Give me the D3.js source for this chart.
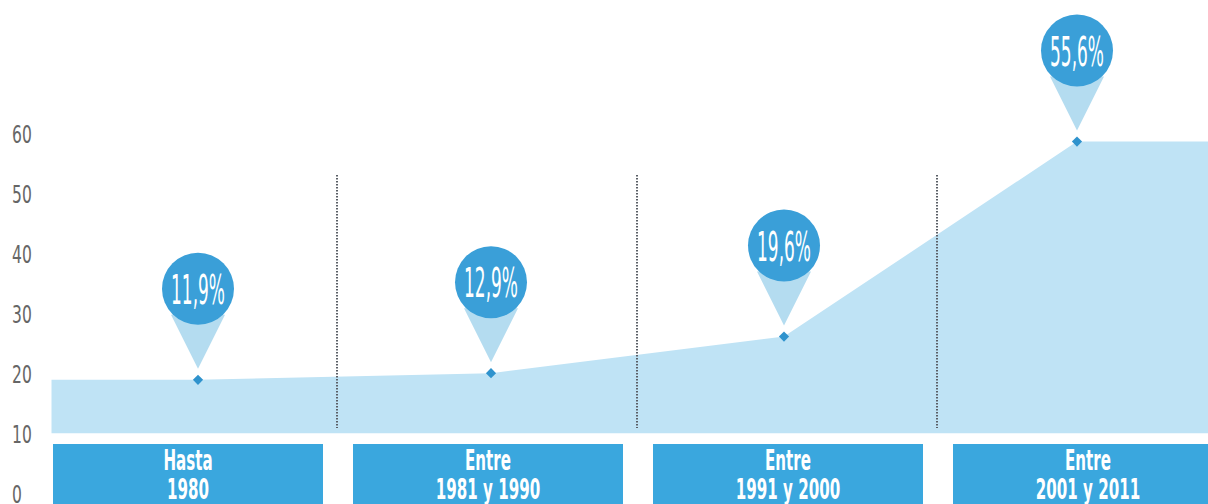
<!DOCTYPE html>
<html>
<head>
<meta charset="utf-8">
<script src="https://cdn.jsdelivr.net/npm/d3@7.9.0/dist/d3.min.js"></script>
<style>
  html, body { margin: 0; padding: 0; background: #fff; }
  svg { display: block; }
  text { font-family: "DejaVu Sans Condensed", "DejaVu Sans", sans-serif; }
</style>
</head>
<body>
<svg id="chart"></svg>
<script>
// periods shown in the boxes under the chart
const periodTop = ["Hasta", "Entre", "Entre", "Entre"];
const periodBottom = ["1980", "1981 y 1990", "1991 y 2000", "2001 y 2011"];
// height of each point on the 0-60 axis
const values = [19.2, 20.3, 26.4, 58.9];
// text shown in the pins
const pinLabels = ["11,9%", "12,9%", "19,6%", "55,6%"];
const yTicks = [0, 10, 20, 30, 40, 50, 60];

const width = 1208;
const height = 504;

const svg = d3.select("#chart")
    .attr("width", width)
    .attr("height", height);

const y = d3.scaleLinear().domain([0, 60]).range([495, 135]);

// points sit on a linear index scale, boxes on a band scale
const xPoint = d3.scaleLinear().domain([0, values.length - 1]).range([198, 1077]);
const xBand = d3.scaleBand()
    .domain(d3.range(periodTop.length))
    .range([53, 1223])
    .paddingInner(0.1)
    .paddingOuter(0);

const baseValue = 10.3; // area bottom edge

// y axis labels
const yAxis = d3.axisLeft(y).tickValues(yTicks).tickSize(0).tickPadding(0);
const gy = svg.append("g")
    .attr("transform", "translate(12,0)")
    .call(yAxis);
gy.select(".domain").remove();
gy.selectAll("text")
    .attr("x", 0)
    .attr("text-anchor", "start")
    .attr("transform", "scale(0.72,1)")
    .attr("fill", "#666")
    .style("font-size", "24px");

// area, with its flat ends carried to the edges
const areaData = [
    { i: -0.5, v: values[0] },
    ...values.map((v, i) => ({ i: i, v: v })),
    { i: 3.5, v: values[values.length - 1] }
];

const area = d3.area()
    .x(d => xPoint(d.i))
    .y0(y(baseValue))
    .y1(d => y(d.v));

svg.append("path")
    .datum(areaData)
    .attr("d", area)
    .attr("fill", "#bfe3f5");

// dotted separators between periods
const gap = xBand.step() - xBand.bandwidth();
d3.range(periodTop.length - 1).forEach(i => {
    const sx = xBand(i) + xBand.bandwidth() + gap / 2 - 1;
    svg.append("line")
        .attr("x1", sx).attr("x2", sx)
        .attr("y1", 175).attr("y2", 428)
        .attr("stroke", "#5a5f66")
        .attr("stroke-width", 2)
        .attr("stroke-dasharray", "1.5,1.5");
});

// boxes with period names
const boxes = svg.append("g");
periodTop.forEach((t, i) => {
    const bx = xBand(i);
    const cx = bx + xBand.bandwidth() / 2;
    boxes.append("rect")
        .attr("x", bx)
        .attr("y", 444)
        .attr("width", xBand.bandwidth())
        .attr("height", 70)
        .attr("fill", "#3aa7de");

    [t, periodBottom[i]].forEach((line, k) => {
        boxes.append("text")
            .attr("transform", `translate(${cx},${k === 0 ? 470 : 499}) scale(0.6,1)`)
            .attr("text-anchor", "middle")
            .attr("fill", "#fff")
            .style("font-size", "28px")
            .style("font-weight", "bold")
            .text(line);
    });
});

// pins
const pins = svg.append("g");
values.forEach((v, i) => {
    const px = xPoint(i);
    const py = y(v);
    const cy = py - 91;

    pins.append("path")
        .attr("d", `M${px - 27},${cy + 26} L${px + 27},${cy + 26} L${px},${py - 11} Z`)
        .attr("fill", "#b4dcf0");

    pins.append("circle")
        .attr("cx", px)
        .attr("cy", cy)
        .attr("r", 36)
        .attr("fill", "#3a9fd8");

    pins.append("text")
        .attr("transform", `translate(${px},${cy + 15}) scale(0.46,1)`)
        .attr("text-anchor", "middle")
        .attr("fill", "#fff")
        .style("font-size", "41px")
        .text(pinLabels[i]);

    pins.append("path")
        .attr("d", d3.symbol(d3.symbolSquare, 52)())
        .attr("transform", `translate(${px},${py}) rotate(45)`)
        .attr("fill", "#2f93cd");
});
</script>
</body>
</html>
